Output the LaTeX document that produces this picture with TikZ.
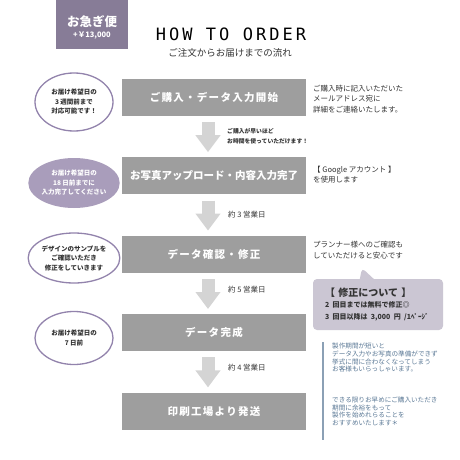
\documentclass[tikz,border=0pt]{standalone}
\usepackage{fontspec}
\setmainfont{Noto Sans CJK JP}
\newfontfamily\boxfont[LetterSpace=12]{Noto Sans CJK JP}
\newfontfamily\titlefont[LetterSpace=18]{DejaVu Sans Mono}
\usepackage{xcolor}
\usepackage{tikz}
\usetikzlibrary{positioning,calc,shapes.geometric,shapes.callouts,arrows.meta}
\definecolor{OrderGray}{HTML}{9E9E9E}
\definecolor{OrderArrow}{HTML}{D4D4D4}
\definecolor{OrderPurple}{HTML}{877C97}
\definecolor{OrderLilac}{HTML}{A99DBB}
\definecolor{OrderLine}{HTML}{9283AC}
\definecolor{OrderNote}{HTML}{CBC6D3}
\definecolor{OrderText}{HTML}{333333}
\definecolor{OrderBlue}{HTML}{5A7895}
\tikzset{
    stepbox/.style={rectangle, fill=OrderGray, text=white, minimum width=184pt, minimum height=37pt, inner sep=0pt, font=\boxfont\bfseries\fontsize{10.5}{12}\selectfont},
    stepflow/.style={draw=OrderArrow, line width=13pt, -{Triangle[length=17pt, width=24pt]}},
    steplabel/.style={anchor=west, inner sep=0pt, text=OrderText, align=left, font=\fontsize{7.5}{10}\selectfont},
    sidetext/.style={anchor=west, inner sep=0pt, text=OrderText, align=left, font=\fontsize{7.5}{10.5}\selectfont},
    markoval/.style={ellipse, draw=OrderLine, line width=1.3pt, fill=white, minimum width=78pt, minimum height=54pt, inner sep=0pt, align=center, text=OrderText, font=\bfseries\fontsize{6.5}{9.5}\selectfont}
}

\begin{document}
\begin{tikzpicture}[x=1pt, y=-1pt, node distance=41pt,
        % Style cho ô "お急ぎ便"
        badge/.style={rectangle, fill=OrderPurple, minimum width=72pt, minimum height=49pt, inner sep=0pt},
        % Style ô ghi chú tím
        fixnote/.style={
            rectangle callout,
            fill=OrderNote,
            rounded corners=4pt,
            minimum width=130pt,
            minimum height=51pt,
            inner xsep=12pt,
            text width=106pt,
            align=left,
            text=OrderText,
            callout pointer width=14pt
        },
        noteline/.style={draw=OrderBlue!70, line width=1.4pt}
    ]
    \useasboundingbox (0,0) rectangle (460,460);

    % Tiêu đề
    \node[badge] (express) at (92,24.5) {};
    \node[text=white, inner sep=0pt, font=\bfseries\fontsize{12.5}{14}\selectfont] (expressname) at (express.center |- 0,22) {お急ぎ便};
    \node[text=white, inner sep=0pt, font=\bfseries\fontsize{7.5}{9}\selectfont] (expressprice) at (express.center |- 0,36) {+￥13,000};
    \node[inner sep=0pt, font=\titlefont\fontsize{17}{20}\selectfont] (title) at (231,34.5) {HOW TO ORDER};
    \node[inner sep=0pt, text=OrderText, font=\fontsize{9.5}{11}\selectfont] (subtitle) at (230,52.5) {ご注文からお届けまでの流れ};

    % Các bước
    \node[stepbox] (start) at (214,97.5) {ご購入・データ入力開始};
    \node[stepbox, below=of start] (upload) {\addfontfeature{LetterSpace=0}お写真アップロード・内容入力完了};
    \node[stepbox, below=of upload] (check) {データ確認・修正};
    \node[stepbox, below=of check] (done) {データ完成};
    \node[stepbox, below=of done] (ship) {印刷工場より発送};

    % Mũi tên giữa các bước
    \draw[stepflow] ([xshift=-6pt, yshift=-6pt]start.south) -- ([xshift=-6pt, yshift=5pt]upload.north);
    \draw[stepflow] ([xshift=-6pt, yshift=-6pt]upload.south) -- ([xshift=-6pt, yshift=5pt]check.north);
    \draw[stepflow] ([xshift=-6pt, yshift=-6pt]check.south) -- ([xshift=-6pt, yshift=5pt]done.north);
    \draw[stepflow] ([xshift=-6pt, yshift=-6pt]done.south) -- ([xshift=-6pt, yshift=5pt]ship.north);

    % Nhãn thời gian
    \node[steplabel, font=\bfseries\fontsize{5.8}{10}\selectfont] (earlynote) at (227,136) {ご購入が早いほど\\お時間を使っていただけます！};
    \node[steplabel] (days3) at (228,215) {約 3 営業日};
    \node[steplabel] (days5) at (228,290) {約 5 営業日};
    \node[steplabel] (days4) at (228,368) {約 4 営業日};

    % Hạn chót bên trái
    \node[markoval, minimum height=58pt] (limit1) at (74,102) {お届け希望日の\\3 週間前まで\\対応可能です！};
    \node[markoval, fill=OrderLilac, draw=none, text=white, minimum height=50pt] (limit2) at (74,183) {お届け希望日の\\18 日前までに\\入力完了してください};
    \node[markoval, minimum height=50pt] (limit3) at (74,258) {デザインのサンプルを\\ご確認いただき\\修正をしていきます};
    \node[markoval, minimum height=53pt] (limit4) at (74,338) {お届け希望日の\\7 日前};

    % Ghi chú bên phải
    \node[sidetext] (mailnote) at (313,99) {ご購入時に記入いただいた\\メールアドレス宛に\\詳細をご連絡いたします。};
    \node[sidetext] (googlenote) at (313,174.5) {【 Google アカウント 】\\を使用します};
    \node[sidetext] (plannernote) at (313,250) {プランナー様へのご確認も\\していただけると安心です};
    \node[fixnote, callout absolute pointer={(362,268)}] (fixbox) at (378,304.5)
        {{\bfseries\fontsize{10}{12}\selectfont 【 修正について 】}\\[3pt]
         {\bfseries\fontsize{7}{7.5}\selectfont 2 回目までは無料で修正◎\\3 回目以降は 3,000 円 /1ﾍﾟｰｼﾞ}};

    % Lời khuyên với đường kẻ dọc
    \coordinate (linetop) at (323,342);
    \coordinate (linebottom) at (323,440);
    \draw[noteline] (linetop) -- (linebottom);
    \node[anchor=north west, inner sep=0pt, align=left, text=OrderBlue, font=\fontsize{6.6}{7.7}\selectfont] (advice) at (332,343)
        {製作期間が短いと\\データ入力やお写真の準備ができず\\挙式に間に合わなくなってしまう\\お客様もいらっしゃいます。\\[23pt]できる限りお早めにご購入いただき\\期間に余裕をもって\\製作を始めれらることを\\おすすめいたします＊};
\end{tikzpicture}
\end{document}
